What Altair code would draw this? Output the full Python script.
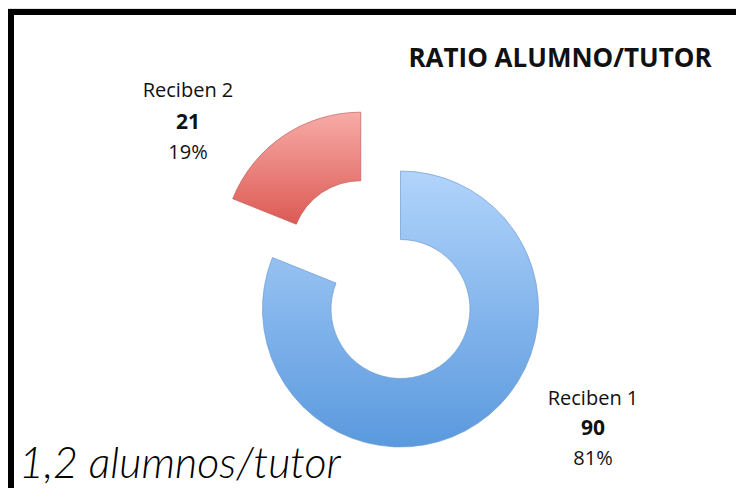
import altair as alt
import pandas as pd

# ---- data ----
categories = ["Reciben 1", "Reciben 2"]
values = [90, 21]
title_text = "RATIO ALUMNO/TUTOR"
note_text = "1,2 alumnos/tutor"

df = pd.DataFrame({"cat": categories, "value": values})

# ---- layout ----
W, H = 728, 480
CX, CY = 392.5, 301
R_OUT, R_IN = 138, 69.5
EXPLODE = 71
FONT = "Open Sans"

base = (
    alt.Chart(df)
    .transform_joinaggregate(total="sum(value)")
    .transform_window(cum="sum(value)", frame=[None, 0])
    .transform_calculate(
        start="(datum.cum - datum.value) / datum.total * 2 * PI",
        end="datum.cum / datum.total * 2 * PI",
        mid="(datum.cum - datum.value / 2) / datum.total * 2 * PI",
        pct="round(datum.value / datum.total * 100) + '%'",
    )
)

def grad(top, bottom):
    return alt.LinearGradient(
        gradient="linear",
        stops=[alt.GradientStop(color=top, offset=0), alt.GradientStop(color=bottom, offset=1)],
        x1=0, x2=0, y1=0, y2=1,
    )

blue = (
    base.transform_filter(alt.datum.cat == categories[0])
    .mark_arc(radius=R_OUT, radius2=R_IN, fill=grad("#b1d4fb", "#5a99de"),
              stroke="#6f9ccf", strokeWidth=1, strokeOpacity=0.7)
    .encode(theta=alt.Theta("start:Q", scale=None), theta2="end:Q",
            x=alt.value(CX), y=alt.value(CY))
)

red = (
    base.transform_filter(alt.datum.cat == categories[1])
    .transform_calculate(
        ox=f"{CX} + {EXPLODE} * sin(datum.mid)",
        oy=f"{CY} - {EXPLODE} * cos(datum.mid)",
    )
    .mark_arc(radius=R_OUT, radius2=R_IN, fill=grad("#f8aba7", "#dc5a54"),
              stroke="#c0605b", strokeWidth=1, strokeOpacity=0.7)
    .encode(theta=alt.Theta("start:Q", scale=None), theta2="end:Q",
            x=alt.X("ox:Q", scale=None), y=alt.Y("oy:Q", scale=None))
)

def label_block(cat, x, y_name, y_val, y_pct):
    f = base.transform_filter(alt.datum.cat == cat)
    t_name = f.mark_text(font=FONT, fontSize=20, color="#111111", align="center",
                         baseline="alphabetic").encode(
        text="cat:N", x=alt.value(x), y=alt.value(y_name))
    t_val = f.mark_text(font=FONT, fontSize=21, fontWeight="bold", color="#111111",
                        align="center", baseline="alphabetic").encode(
        text="value:Q", x=alt.value(x), y=alt.value(y_val))
    t_pct = f.mark_text(font=FONT, fontSize=20, color="#111111", align="center",
                        baseline="alphabetic").encode(
        text="pct:N", x=alt.value(x), y=alt.value(y_pct))
    return [t_name, t_val, t_pct]

labels = label_block(categories[1], 180, 89, 121, 151) + label_block(categories[0], 585, 397, 427, 457)

one = alt.Data(values=[{"t": title_text, "n": note_text}])

frame = alt.Chart(one).mark_rect(fill="white", stroke="black", strokeWidth=6, clip=True).encode(
    x=alt.value(3), x2=alt.value(W + 20), y=alt.value(4), y2=alt.value(H + 20)
)

title = alt.Chart(one).mark_text(font=FONT, fontSize=26, fontWeight="bold", color="#111111",
                                 align="center", baseline="alphabetic").encode(
    text="t:N", x=alt.value(552), y=alt.value(59))

note = alt.Chart(one).mark_text(font="Lato", fontSize=43, fontStyle="italic", fontWeight=300,
                                color="#000000", align="left", baseline="alphabetic").encode(
    text="n:N", x=alt.value(11), y=alt.value(470))

chart = alt.layer(frame, red, blue, title, *labels, note).properties(
    width=W, height=H, autosize=alt.AutoSizeParams(type="none"), padding=0,
    background="#e2e3e5",
).configure_view(stroke=None)

chart.save("out.html", embed_options={"renderer": "svg", "actions": False})
